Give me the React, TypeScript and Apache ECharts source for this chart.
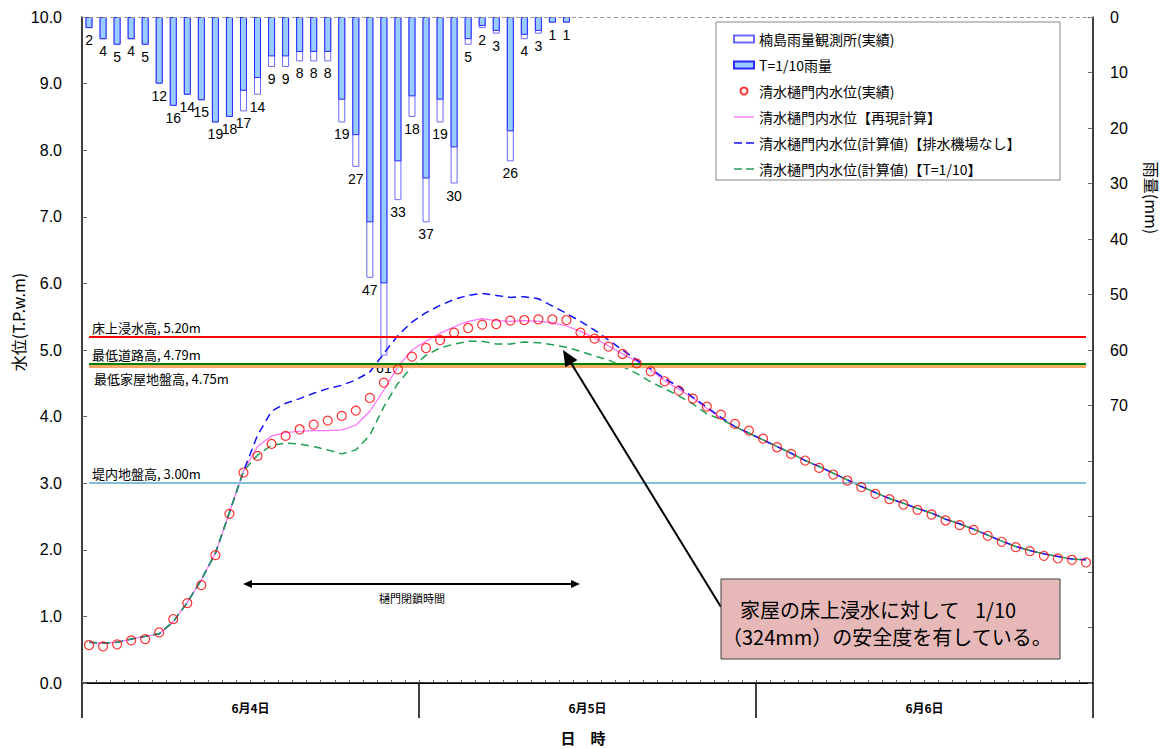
import React, { useEffect, useRef } from 'react';
import * as echarts from 'echarts';

const FONT = '"Noto Sans CJK JP", "Liberation Sans", sans-serif';
const NUMFONT = '"Liberation Sans", "Noto Sans CJK JP", sans-serif';

// hourly categories (3 days x 24 hours)
const hours = Array.from({ length: 72 }, (_, i) => `${4 + Math.floor(i / 24)}日${(i % 24) + 1}時`);
const days = ['6月4日', '6月5日', '6月6日'];

// rainfall (mm/h)
const rainObs = [2, 4, 5, 4, 5, 12, 16, 14, 15, 19, 18, 17, 14, 9, 9, 8, 8, 8, 19, 27, 47, 61, 33, 18, 37, 19, 30, 5, 2, 3, 26, 4, 3, 1, 1];
const rainT10 = [2, 4, 5, 4, 5, 12, 16, 14, 15, 19, 18, 13.3, 11, 7.1, 7.1, 6.3, 6.3, 6.3, 14.9, 21.3, 37, 48, 26, 14.3, 29.1, 14.9, 23.5, 4, 1.6, 2.5, 20.6, 3.2, 2.5, 1, 1];

// water levels (T.P.m)
const obsLevel = [
  0.57, 0.55, 0.58, 0.64, 0.66, 0.76, 0.96, 1.2, 1.47, 1.92,
  2.54, 3.16, 3.41, 3.59, 3.71, 3.81, 3.88, 3.94, 4.01, 4.09,
  4.28, 4.51, 4.71, 4.9, 5.03, 5.15, 5.26, 5.33, 5.38, 5.39,
  5.44, 5.45, 5.46, 5.46, 5.45, 5.26, 5.17, 5.05, 4.94, 4.8,
  4.68, 4.53, 4.39, 4.27, 4.15, 4.03, 3.89, 3.79, 3.67, 3.54,
  3.44, 3.34, 3.23, 3.13, 3.04, 2.94, 2.84, 2.76, 2.68, 2.6,
  2.53, 2.44, 2.37, 2.3, 2.21, 2.12, 2.04, 1.98, 1.91, 1.87,
  1.85, 1.81,
];
const reproLevel = [
  0.61, 0.6, 0.61, 0.66, 0.7, 0.74, 0.92, 1.21, 1.55, 1.95,
  2.56, 3.18, 3.55, 3.71, 3.76, 3.78, 3.79, 3.79, 3.8, 3.87,
  4.08, 4.4, 4.75, 5.0, 5.13, 5.25, 5.35, 5.43, 5.47, 5.44,
  5.43, 5.44, 5.43, 5.41, 5.36, 5.28, 5.18, 5.06, 4.94, 4.83,
  4.7, 4.54, 4.41, 4.28, 4.12, 3.98, 3.85, 3.75, 3.65, 3.55,
  3.45, 3.34, 3.25, 3.15, 3.05, 2.95, 2.86, 2.77, 2.7, 2.62,
  2.55, 2.46, 2.39, 2.31, 2.22, 2.13, 2.05, 1.99, 1.94, 1.9,
  1.86, 1.85,
];
const noPumpLevel = [
  0.61, 0.6, 0.61, 0.66, 0.7, 0.74, 0.92, 1.21, 1.55, 1.95,
  2.56, 3.18, 3.72, 4.08, 4.2, 4.27, 4.35, 4.42, 4.47, 4.55,
  4.67, 4.95, 5.22, 5.42, 5.56, 5.67, 5.76, 5.82, 5.85, 5.82,
  5.79, 5.8, 5.77, 5.66, 5.55, 5.43, 5.3, 5.15, 5.0, 4.85,
  4.72, 4.57, 4.45, 4.29, 4.14, 3.99, 3.85, 3.75, 3.65, 3.55,
  3.45, 3.34, 3.25, 3.15, 3.05, 2.95, 2.86, 2.77, 2.7, 2.62,
  2.55, 2.46, 2.39, 2.31, 2.22, 2.13, 2.05, 1.99, 1.94, 1.9,
  1.86, 1.85,
];
const t10Level = [
  0.61, 0.6, 0.61, 0.66, 0.7, 0.74, 0.92, 1.21, 1.55, 1.95,
  2.56, 3.18, 3.42, 3.57, 3.6, 3.59, 3.55, 3.5, 3.44, 3.5,
  3.72, 4.15, 4.5, 4.75, 4.92, 5.03, 5.09, 5.13, 5.13, 5.09,
  5.09, 5.12, 5.11, 5.08, 5.04, 4.98, 4.91, 4.85, 4.75, 4.65,
  4.52, 4.42, 4.31, 4.19, 4.04, 3.96, 3.85, 3.75, 3.65, 3.55,
  3.45, 3.34, 3.25, 3.15, 3.05, 2.95, 2.86, 2.77, 2.7, 2.62,
  2.55, 2.46, 2.39, 2.31, 2.22, 2.13, 2.05, 1.99, 1.94, 1.9,
  1.86, 1.85,
];

// reference levels
const refNames = ['床上浸水高, 5.20m', '最低道路高, 4.79m', '最低家屋地盤高, 4.75m', '堤内地盤高, 3.00m'];
const refValues = [5.2, 4.79, 4.75, 3.0];

const yTicks = [0, 10, 20, 30, 40, 50, 60, 70];

const ICON_SOLID = 'path://M0,3H20V4.3H0Z';
const ICON_DASH = 'path://M0,3H8V4.6H0Z M12,3H20V4.6H12Z';

function buildOption(): any {
  const pad = (arr: number[]) => hours.map((_, i) => (i < arr.length ? arr[i] : null));
  const refColors = ['#ff0000', '#008000', '#f8a868', '#80c0d8'];
  const refWidths = [2, 2, 3, 2];
  const refPos = ['insideStartTop', 'insideStartTop', 'insideStartBottom', 'insideStartTop'];
  const order = [2, 1, 0, 3];
  const refLines: any[] = order.map((k) => [
    {
      coord: [hours[0], refValues[k]],
      lineStyle: { color: refColors[k], width: refWidths[k], type: 'solid' },
      label: {
        show: true,
        position: refPos[k],
        formatter: refNames[k],
        color: '#000',
        fontSize: 13,
        fontFamily: FONT,
        distance: k === 2 ? 5 : 3,
      },
    },
    { coord: [hours[71], refValues[k]] },
  ]);
  refLines.push({
    yAxis: 10,
    lineStyle: { color: '#999', type: [4, 3], width: 1 },
    label: { show: false },
  });

  return {
    animation: false,
    textStyle: { fontFamily: FONT },
    grid: { left: 82, right: 80, top: 17, bottom: 66, containLabel: false },
    legend: {
      orient: 'vertical',
      left: 733,
      top: 32,
      padding: 0,
      itemWidth: 20,
      itemHeight: 7,
      itemGap: 12,
      z: 10,
      textStyle: { fontSize: 14, lineHeight: 14, color: '#000', fontFamily: FONT },
      data: [
        { name: '楠島雨量観測所(実績)', icon: 'rect' },
        { name: 'T=1/10雨量', icon: 'rect' },
        { name: '清水樋門内水位(実績)', icon: 'circle' },
        { name: '清水樋門内水位【再現計算】', icon: ICON_SOLID, itemStyle: { color: '#ff70ff', borderWidth: 0 } },
        { name: '清水樋門内水位(計算値)【排水機場なし】', icon: ICON_DASH, itemStyle: { color: '#1010ff', borderWidth: 0 } },
        { name: '清水樋門内水位(計算値)【T=1/10】', icon: ICON_DASH, itemStyle: { color: '#20a050', borderWidth: 0 } },
      ],
    },
    xAxis: [
      {
        type: 'category',
        data: hours,
        boundaryGap: true,
        position: 'bottom',
        axisLine: { show: true, onZero: false, lineStyle: { color: '#000', width: 1 } },
        axisTick: { show: true, inside: true, length: 3, interval: 0, lineStyle: { color: '#666' } },
        axisLabel: { show: false },
        splitLine: { show: false },
      },
      {
        type: 'category',
        data: days,
        boundaryGap: true,
        position: 'bottom',
        axisLine: { show: true, onZero: false, lineStyle: { color: '#000', width: 1.5 } },
        axisTick: { show: true, inside: false, length: 35, interval: 0, lineStyle: { color: '#000', width: 1.5 } },
        axisLabel: { show: true, fontSize: 12, fontWeight: 'bold', color: '#000', margin: 18, fontFamily: FONT },
        splitLine: { show: false },
      },
    ],
    yAxis: [
      {
        type: 'value',
        min: 0,
        max: 10,
        interval: 1,
        position: 'left',
        axisLine: { show: true, onZero: false, lineStyle: { color: '#000', width: 1.5 } },
        axisTick: { show: true, inside: true, length: 5, lineStyle: { color: '#666' } },
        axisLabel: {
          formatter: (v: number) => v.toFixed(1),
          fontSize: 16,
          color: '#000',
          margin: 20,
          fontFamily: NUMFONT,
        },
        splitLine: { show: false },
      },
      {
        type: 'value',
        min: 0,
        max: 120,
        interval: 10,
        inverse: true,
        position: 'right',
        axisLine: { show: true, onZero: false, lineStyle: { color: '#000', width: 1.5 } },
        axisTick: { show: true, inside: true, length: 5, lineStyle: { color: '#666' } },
        axisLabel: {
          formatter: (v: number) => (yTicks.indexOf(v) >= 0 ? String(v) : ''),
          fontSize: 16,
          color: '#000',
          margin: 17,
          fontFamily: NUMFONT,
        },
        splitLine: { show: false },
      },
    ],
    series: [
      {
        name: '楠島雨量観測所(実績)',
        type: 'bar',
        xAxisIndex: 0,
        yAxisIndex: 1,
        data: pad(rainObs),
        barWidth: 7,
        barGap: '-100%',
        itemStyle: { color: '#ffffff', borderColor: '#6a6aff', borderWidth: 1 },
        label: {
          show: true,
          position: 'bottom',
          distance: 5,
          color: '#000',
          fontSize: 14,
          fontFamily: NUMFONT,
        },
        z: 2,
      },
      {
        name: 'T=1/10雨量',
        type: 'bar',
        xAxisIndex: 0,
        yAxisIndex: 1,
        data: pad(rainT10),
        barWidth: 7,
        barGap: '-100%',
        itemStyle: { color: '#99ccff', borderColor: '#2828ff', borderWidth: 1 },
        z: 2,
      },
      {
        name: '清水樋門内水位【再現計算】',
        type: 'line',
        xAxisIndex: 0,
        yAxisIndex: 0,
        data: reproLevel,
        symbol: 'none',
        lineStyle: { color: '#ff70ff', width: 1.2 },
        itemStyle: { color: '#ff70ff' },
        z: 3,
        markLine: {
          silent: true,
          symbol: 'none',
          animation: false,
          data: refLines,
        },
      },
      {
        name: '清水樋門内水位(計算値)【排水機場なし】',
        type: 'line',
        xAxisIndex: 0,
        yAxisIndex: 0,
        data: noPumpLevel,
        symbol: 'none',
        lineStyle: { color: '#1010ff', width: 1.5, type: [8, 5] },
        itemStyle: { color: '#1010ff' },
        z: 4,
      },
      {
        name: '清水樋門内水位(計算値)【T=1/10】',
        type: 'line',
        xAxisIndex: 0,
        yAxisIndex: 0,
        data: t10Level,
        symbol: 'none',
        lineStyle: { color: '#20a050', width: 1.5, type: [8, 5] },
        itemStyle: { color: '#20a050' },
        z: 4,
      },
      {
        name: '清水樋門内水位(実績)',
        type: 'scatter',
        xAxisIndex: 0,
        yAxisIndex: 0,
        data: obsLevel,
        symbol: 'circle',
        symbolSize: 9,
        itemStyle: { color: 'rgba(255,255,255,0)', borderColor: '#ff0000', borderWidth: 1.2 },
        z: 5,
      },
    ],
    graphic: [
      {
        type: 'rect',
        z: 1,
        shape: { x: 716, y: 22, width: 344, height: 158 },
        style: { fill: '#ffffff', stroke: '#888888', lineWidth: 1 },
      },
      {
        type: 'text',
        x: 18,
        y: 322,
        rotation: Math.PI / 2,
        style: { text: '水位(T.P.w.m)', fontSize: 16, fill: '#000', align: 'center', verticalAlign: 'middle', fontFamily: FONT },
      },
      {
        type: 'text',
        x: 1152,
        y: 198,
        rotation: -Math.PI / 2,
        style: { text: '雨量(mm)', fontSize: 16, fill: '#000', align: 'center', verticalAlign: 'middle', fontFamily: FONT },
      },
      {
        type: 'text',
        x: 583,
        y: 737,
        style: { text: '日　時', fontSize: 15, fontWeight: 'bold', fill: '#000', align: 'center', verticalAlign: 'middle', fontFamily: FONT },
      },
      // gate closure period arrow
      {
        type: 'line',
        shape: { x1: 250, y1: 584, x2: 573, y2: 584 },
        style: { stroke: '#000', lineWidth: 2 },
        z: 6,
      },
      {
        type: 'polygon',
        shape: { points: [[243, 584], [252, 580], [252, 588]] },
        style: { fill: '#000' },
        z: 6,
      },
      {
        type: 'polygon',
        shape: { points: [[580, 584], [571, 580], [571, 588]] },
        style: { fill: '#000' },
        z: 6,
      },
      {
        type: 'text',
        x: 412,
        y: 598,
        style: { text: '樋門閉鎖時間', fontSize: 11, fill: '#000', align: 'center', verticalAlign: 'middle', fontFamily: FONT },
        z: 6,
      },
      // annotation arrow
      {
        type: 'line',
        shape: { x1: 721, y1: 607, x2: 571, y2: 363 },
        style: { stroke: '#000', lineWidth: 2 },
        z: 6,
      },
      {
        type: 'polygon',
        shape: { points: [[563, 350], [565.4, 367.3], [577.4, 359.9]] },
        style: { fill: '#000' },
        z: 6,
      },
      {
        type: 'rect',
        shape: { x: 721, y: 579, width: 339, height: 80 },
        style: { fill: '#e6b9b8', stroke: '#404040', lineWidth: 1 },
        z: 7,
      },
      {
        type: 'text',
        x: 740,
        y: 609,
        style: { text: '家屋の床上浸水に対して', fontSize: 20, fill: '#000', align: 'left', verticalAlign: 'middle', fontFamily: FONT },
        z: 8,
      },
      {
        type: 'text',
        x: 975,
        y: 609,
        style: { text: '1/10', fontSize: 20, fill: '#000', align: 'left', verticalAlign: 'middle', fontFamily: FONT },
        z: 8,
      },
      {
        type: 'text',
        x: 722,
        y: 636,
        style: { text: '（324mm）の安全度を有している。', fontSize: 20, fill: '#000', align: 'left', verticalAlign: 'middle', fontFamily: FONT },
        z: 8,
      },
    ],
  };
}

export default function App() {
  const ref = useRef<HTMLDivElement>(null);
  useEffect(() => {
    document.body.style.margin = '0';
    const chart = echarts.init(ref.current as HTMLDivElement, null, { renderer: 'svg' });
    chart.setOption(buildOption());
    return () => chart.dispose();
  }, []);
  return <div ref={ref} style={{ width: 1173, height: 749 }} />;
}
